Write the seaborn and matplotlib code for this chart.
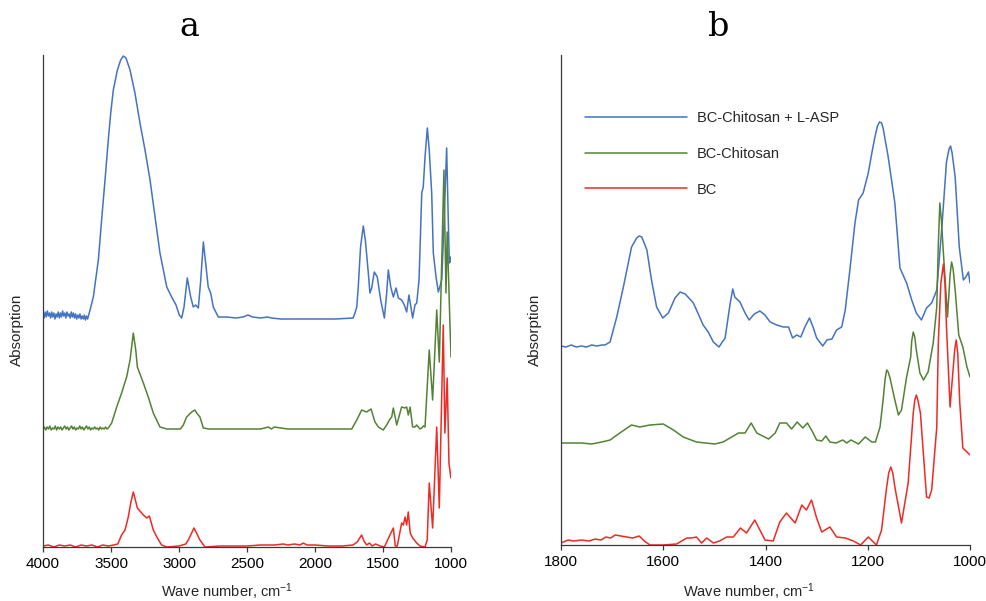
import numpy as np
import pandas as pd
import matplotlib
matplotlib.use("Agg")
import matplotlib.pyplot as plt
import seaborn as sns

# ---------------- FTIR spectra, panel a (4000-1000 cm-1) ----------------
wn_a_asp = [4000, 3992, 3984, 3976, 3968, 3960, 3952, 3944, 3936, 3928, 3920, 3912, 3904, 3896,
            3888, 3880, 3872, 3864, 3856, 3848, 3840, 3832, 3824, 3816, 3808, 3800, 3792, 3784,
            3776, 3768, 3760, 3752, 3744, 3736, 3728, 3720, 3712, 3704, 3696, 3688, 3680, 3672,
            3664, 3654, 3630, 3593, 3569, 3544,
            3520, 3502, 3483, 3453, 3429, 3410, 3390, 3360, 3324, 3287, 3250, 3213, 3176, 3140,
            3090, 3054, 3022, 2998, 2980, 2963, 2939, 2914, 2895, 2877, 2858, 2840, 2821, 2801,
            2785, 2767, 2748, 2711, 2650, 2580, 2530, 2493, 2460, 2400, 2350, 2320, 2250, 2150,
            2000, 1850, 1720, 1706, 1693, 1682, 1665, 1645, 1630, 1608, 1596, 1583, 1564, 1542,
            1517, 1490, 1473, 1461, 1443, 1424, 1404, 1387, 1363, 1343, 1326, 1309, 1282, 1265,
            1252, 1235, 1215, 1204, 1191, 1174, 1160, 1142, 1130, 1110, 1093, 1068, 1057, 1032,
            1020, 1012, 1005, 1000]
ab_a_asp = [2.33, 2.29, 2.35, 2.30, 2.36, 2.31, 2.34, 2.29, 2.35, 2.30, 2.34, 2.28, 2.33, 2.30,
            2.35, 2.29, 2.34, 2.30, 2.36, 2.31, 2.34, 2.29, 2.35, 2.31, 2.33, 2.29, 2.35, 2.30,
            2.34, 2.29, 2.33, 2.28, 2.32, 2.29, 2.33, 2.28, 2.31, 2.28, 2.32, 2.27, 2.31, 2.28,
            2.32, 2.37, 2.50, 2.87, 3.27, 3.67,
            4.07, 4.34, 4.57, 4.77, 4.87, 4.91, 4.89, 4.77, 4.54, 4.24, 3.97, 3.67, 3.30, 2.94,
            2.60, 2.50, 2.42, 2.32, 2.29, 2.40, 2.69, 2.50, 2.40, 2.42, 2.39, 2.67, 3.05, 2.80,
            2.60, 2.54, 2.40, 2.30, 2.30, 2.29, 2.30, 2.32, 2.30, 2.29, 2.30, 2.29, 2.28, 2.28,
            2.28, 2.28, 2.29, 2.34, 2.40, 2.60, 3.00, 3.21, 3.07, 2.74, 2.54, 2.59, 2.75, 2.70,
            2.47, 2.29, 2.54, 2.77, 2.60, 2.50, 2.59, 2.49, 2.47, 2.42, 2.35, 2.52, 2.29, 2.42,
            2.44, 2.67, 3.54, 3.60, 3.90, 4.19, 3.97, 3.54, 2.94, 2.70, 2.55, 2.67, 3.04, 3.99,
            3.27, 2.84, 2.90, 2.85]

wn_a_chi = [4000, 3990, 3980, 3970, 3960, 3950, 3940, 3930, 3920, 3910, 3900, 3890, 3880, 3870,
            3860, 3850, 3840, 3830, 3820, 3810, 3800, 3790, 3780, 3770, 3760, 3750, 3740, 3730,
            3720, 3710, 3700, 3690, 3680, 3670, 3660, 3650, 3640, 3630, 3620, 3610, 3600, 3590,
            3580, 3570, 3560, 3550, 3540, 3530, 3520, 3495, 3458, 3422, 3385, 3360, 3336, 3318,
            3306, 3262, 3226, 3189, 3140, 3090, 3030, 2990, 2968, 2944, 2907, 2883, 2870, 2858,
            2846, 2821, 2780, 2700, 2600, 2500, 2400, 2343, 2320, 2300, 2200, 2000, 1800, 1730,
            1693, 1657, 1620, 1588, 1559, 1534, 1498, 1473, 1453, 1436, 1424, 1399, 1363, 1338,
            1326, 1314, 1301, 1282, 1265, 1252, 1228, 1215, 1204, 1191, 1160, 1135, 1105, 1086,
            1052, 1037, 1028, 1008, 1000]
ab_a_chi = [1.18, 1.20, 1.17, 1.20, 1.18, 1.21, 1.17, 1.19, 1.18, 1.21, 1.17, 1.20, 1.18, 1.20,
            1.17, 1.19, 1.21, 1.18, 1.20, 1.17, 1.19, 1.21, 1.18, 1.20, 1.17, 1.19, 1.18, 1.21,
            1.18, 1.20, 1.17, 1.19, 1.21, 1.18, 1.20, 1.17, 1.19, 1.18, 1.20, 1.18, 1.19, 1.17,
            1.20, 1.18, 1.19, 1.18, 1.20, 1.18, 1.19, 1.24, 1.40, 1.54, 1.70, 1.87, 2.14, 1.97,
            1.80, 1.64, 1.50, 1.34, 1.20, 1.18, 1.18, 1.18, 1.22, 1.30, 1.35, 1.37, 1.34, 1.32,
            1.30, 1.19, 1.18, 1.18, 1.18, 1.18, 1.18, 1.20, 1.18, 1.20, 1.18, 1.18, 1.18, 1.18,
            1.27, 1.37, 1.35, 1.38, 1.25, 1.20, 1.17, 1.22, 1.27, 1.30, 1.39, 1.22, 1.40, 1.39,
            1.40, 1.32, 1.40, 1.20, 1.20, 1.22, 1.18, 1.19, 1.21, 1.20, 1.97, 1.47, 2.37, 1.85,
            3.77, 2.54, 3.15, 2.24, 1.90]

wn_a_bc = [4000, 3960, 3920, 3880, 3840, 3800, 3760, 3720, 3680, 3640, 3600, 3560, 3520, 3480,
           3450, 3422, 3397, 3373, 3355, 3336, 3321, 3306, 3262, 3238, 3218, 3189, 3159, 3128,
           3090, 3000, 2950, 2932, 2907, 2890, 2871, 2846, 2809, 2700, 2600, 2500, 2400, 2300,
           2233, 2200, 2150, 2110, 2086, 2060, 2000, 1900, 1800, 1720, 1690, 1657, 1640, 1620,
           1600, 1580, 1555, 1520, 1490, 1449, 1424, 1410, 1395, 1363, 1350, 1338, 1326, 1314,
           1300, 1282, 1252, 1228, 1191, 1175, 1160, 1135, 1105, 1086, 1057, 1045, 1028, 1015,
           1002, 1000]
ab_a_bc = [0.01, 0.02, 0.00, 0.02, 0.01, 0.02, 0.00, 0.02, 0.01, 0.02, 0.00, 0.02, 0.01, 0.02,
           0.03, 0.12, 0.17, 0.30, 0.44, 0.55, 0.47, 0.39, 0.32, 0.29, 0.31, 0.17, 0.09, 0.02,
           0.00, 0.01, 0.03, 0.07, 0.14, 0.19, 0.14, 0.07, 0.00, 0.01, 0.01, 0.01, 0.02, 0.02,
           0.03, 0.02, 0.03, 0.02, 0.04, 0.02, 0.02, 0.01, 0.01, 0.02, 0.05, 0.12, 0.06, 0.02,
           0.04, 0.01, 0.03, 0.01, 0.00, 0.12, 0.19, 0.01, 0.01, 0.24, 0.22, 0.30, 0.22, 0.35,
           0.14, 0.09, 0.04, 0.01, 0.00, 0.07, 0.64, 0.19, 1.20, 0.39, 2.22, 1.14, 1.69, 0.84,
           0.70, 0.69]

# ---------------- FTIR spectra, panel b (1800-1000 cm-1) ----------------
wn_b_asp = [1800, 1790, 1780, 1770, 1760, 1750, 1740, 1730, 1720, 1714, 1704, 1691, 1678, 1662,
            1652, 1647, 1642, 1632, 1623, 1613, 1601, 1590, 1577, 1567, 1557, 1541, 1522, 1512,
            1502, 1491, 1479, 1469, 1464, 1460, 1450, 1440, 1432, 1422, 1411, 1401, 1391, 1378,
            1365, 1355, 1347, 1339, 1331, 1323, 1314, 1307, 1300, 1288, 1280, 1270, 1261, 1251,
            1244, 1235, 1225, 1218, 1209, 1199, 1192, 1186, 1181, 1177, 1173, 1170, 1160, 1147,
            1137, 1124, 1114, 1105, 1095, 1085, 1075, 1065, 1055, 1046, 1041, 1038, 1035, 1029,
            1021, 1013, 1008, 1003, 1000]
ab_b_asp = [1.99, 1.98, 2.00, 1.98, 1.99, 1.98, 2.00, 1.99, 2.00, 2.00, 2.03, 2.28, 2.58, 2.98,
            3.07, 3.09, 3.08, 2.95, 2.65, 2.38, 2.27, 2.32, 2.47, 2.53, 2.51, 2.42, 2.20, 2.13,
            2.03, 1.98, 2.07, 2.42, 2.56, 2.48, 2.43, 2.32, 2.25, 2.31, 2.34, 2.30, 2.23, 2.20,
            2.18, 2.18, 2.07, 2.10, 2.08, 2.18, 2.27, 2.18, 2.07, 1.99, 2.05, 2.06, 2.15, 2.18,
            2.35, 2.75, 3.22, 3.45, 3.52, 3.72, 3.92, 4.08, 4.19, 4.23, 4.22, 4.17, 3.88, 3.42,
            2.77, 2.62, 2.45, 2.32, 2.25, 2.37, 2.42, 2.55, 3.18, 3.83, 3.96, 3.99, 3.92, 3.68,
            2.98, 2.65, 2.68, 2.73, 2.62]

wn_b_chi = [1800, 1780, 1760, 1740, 1720, 1704, 1685, 1662, 1646, 1626, 1600, 1580, 1561, 1535,
            1499, 1483, 1466, 1453, 1440, 1428, 1417, 1394, 1381, 1372, 1359, 1349, 1338, 1327,
            1318, 1310, 1300, 1290, 1282, 1274, 1262, 1249, 1241, 1233, 1218, 1205, 1192, 1185,
            1176, 1170, 1166, 1163, 1160, 1156, 1147, 1140, 1134, 1124, 1116, 1114, 1111, 1108,
            1105, 1098, 1091, 1082, 1072, 1065, 1062, 1059, 1056, 1052, 1044, 1039, 1036, 1033,
            1029, 1022, 1014, 1006, 1000]
ab_b_chi = [1.02, 1.02, 1.02, 1.01, 1.03, 1.05, 1.12, 1.20, 1.18, 1.20, 1.21, 1.15, 1.08, 1.03,
            1.01, 1.03, 1.08, 1.12, 1.12, 1.22, 1.12, 1.06, 1.12, 1.22, 1.22, 1.16, 1.23, 1.17,
            1.22, 1.15, 1.05, 1.04, 1.09, 1.03, 1.02, 1.05, 1.02, 1.05, 1.01, 1.08, 1.03, 1.03,
            1.18, 1.45, 1.66, 1.75, 1.73, 1.66, 1.45, 1.30, 1.35, 1.68, 1.88, 2.04, 2.13, 2.08,
            1.95, 1.72, 1.65, 1.73, 2.02, 2.38, 3.00, 3.42, 3.25, 2.92, 2.28, 2.70, 2.83, 2.76,
            2.55, 2.10, 1.98, 1.78, 1.68]

wn_b_bc = [1800, 1786, 1775, 1760, 1745, 1733, 1722, 1712, 1703, 1694, 1683, 1671, 1660, 1647,
           1637, 1626, 1600, 1574, 1554, 1545, 1535, 1525, 1515, 1502, 1490, 1476, 1463, 1449,
           1437, 1421, 1411, 1401, 1385, 1372, 1359, 1342, 1329, 1320, 1310, 1300, 1290, 1274,
           1261, 1244, 1228, 1214, 1199, 1183, 1173, 1163, 1159, 1155, 1151, 1147, 1134, 1121,
           1111, 1108, 1105, 1102, 1097, 1085, 1080, 1075, 1065, 1062, 1057, 1052, 1049, 1046,
           1039, 1030, 1027, 1024, 1020, 1014, 1004, 1000]
ab_b_bc = [0.02, 0.05, 0.04, 0.05, 0.04, 0.06, 0.05, 0.08, 0.07, 0.10, 0.09, 0.08, 0.07, 0.09,
           0.04, 0.00, 0.00, 0.01, 0.07, 0.07, 0.08, 0.02, 0.07, 0.02, 0.04, 0.08, 0.08, 0.17,
           0.12, 0.25, 0.15, 0.05, 0.04, 0.23, 0.32, 0.22, 0.40, 0.35, 0.45, 0.27, 0.13, 0.18,
           0.08, 0.07, 0.04, 0.00, 0.08, 0.00, 0.15, 0.58, 0.72, 0.78, 0.72, 0.58, 0.22, 0.62,
           1.32, 1.45, 1.50, 1.45, 1.32, 0.48, 0.47, 0.55, 1.18, 2.02, 2.62, 2.81, 2.62, 2.18,
           1.38, 1.95, 2.05, 1.92, 1.42, 0.97, 0.92, 0.90]

samples = ["BC-Chitosan + L-ASP", "BC-Chitosan", "BC"]
colors = ["#4472C4", "#548235", "#EE2A24"]
xticks_a = [4000, 3500, 3000, 2500, 2000, 1500, 1000]
xticks_b = [1800, 1600, 1400, 1200, 1000]


def frame(series):
    parts = [pd.DataFrame({"wn": w, "absorption": a, "sample": s}) for s, w, a in series]
    return pd.concat(parts, ignore_index=True)


df_a = frame([(samples[0], wn_a_asp, ab_a_asp),
              (samples[1], wn_a_chi, ab_a_chi),
              (samples[2], wn_a_bc, ab_a_bc)])
df_b = frame([(samples[0], wn_b_asp, ab_b_asp),
              (samples[1], wn_b_chi, ab_b_chi),
              (samples[2], wn_b_bc, ab_b_bc)])

sns.set_theme(style="white")
plt.rcParams["font.family"] = ["Liberation Sans", "DejaVu Sans"]
plt.rcParams["mathtext.fontset"] = "custom"
plt.rcParams["mathtext.rm"] = "Liberation Sans"
plt.rcParams["mathtext.it"] = "Liberation Sans"

W, H = 987, 601
fig = plt.figure(figsize=(W / 100, H / 100), dpi=100)
ax_a = fig.add_axes([43 / W, 1 - 547 / H, 408 / W, 492 / H])
ax_b = fig.add_axes([561 / W, 1 - 545 / H, 409 / W, 490 / H])

palette = dict(zip(samples, colors))
for ax, df, lim, ticks, ytop in [(ax_a, df_a, (4000, 1000), xticks_a, 4.92),
                                 (ax_b, df_b, (1800, 1000), xticks_b, 4.90)]:
    sns.lineplot(data=df, x="wn", y="absorption", hue="sample", hue_order=samples,
                 palette=palette, estimator=None, sort=False, errorbar=None,
                 linewidth=1.1, ax=ax, legend=(ax is ax_b))
    ax.set_xlim(*lim)
    ax.set_ylim(0, ytop)
    ax.set_xticks(ticks)
    ax.set_xticklabels([str(t) for t in ticks])
    ax.set_yticks([])
    ax.set_xlabel("")
    ax.set_ylabel("")
    for side in ("top", "right"):
        ax.spines[side].set_visible(False)
    for side in ("left", "bottom"):
        ax.spines[side].set_color("#3a3a3a")
        ax.spines[side].set_linewidth(0.9)
    ax.tick_params(axis="x", direction="out", length=3.5, width=0.9, color="#3a3a3a",
                   pad=3.5, labelsize=11, labelcolor="black", bottom=True)

handles, labels = ax_b.get_legend_handles_labels()
ax_b.legend(handles, labels, loc="upper left", bbox_to_anchor=(0.045, 0.898),
            frameon=False, fontsize=10.5, handlelength=7.0, handletextpad=0.68,
            labelspacing=1.5, borderaxespad=0)

fig.text(189.5 / W, 1 - 36.5 / H, "a", family="DejaVu Serif", fontsize=24,
         ha="center", va="baseline", color="black")
fig.text(718.7 / W, 1 - 36.5 / H, "b", family="DejaVu Serif", fontsize=24,
         ha="center", va="baseline", color="black")

xlabel = "Wave number, cm$^{\\mathregular{-1}}$"
fig.text(227 / W, 1 - 597 / H, xlabel, fontsize=10.5, ha="center", va="baseline")
fig.text(749 / W, 1 - 597 / H, xlabel, fontsize=10.5, ha="center", va="baseline")
fig.text(17 / W, 1 - 330 / H, "Absorption", fontsize=11, rotation=90, ha="center", va="center")
fig.text(535 / W, 1 - 330 / H, "Absorption", fontsize=11, rotation=90, ha="center", va="center")

fig.savefig("out.png", dpi=100)
